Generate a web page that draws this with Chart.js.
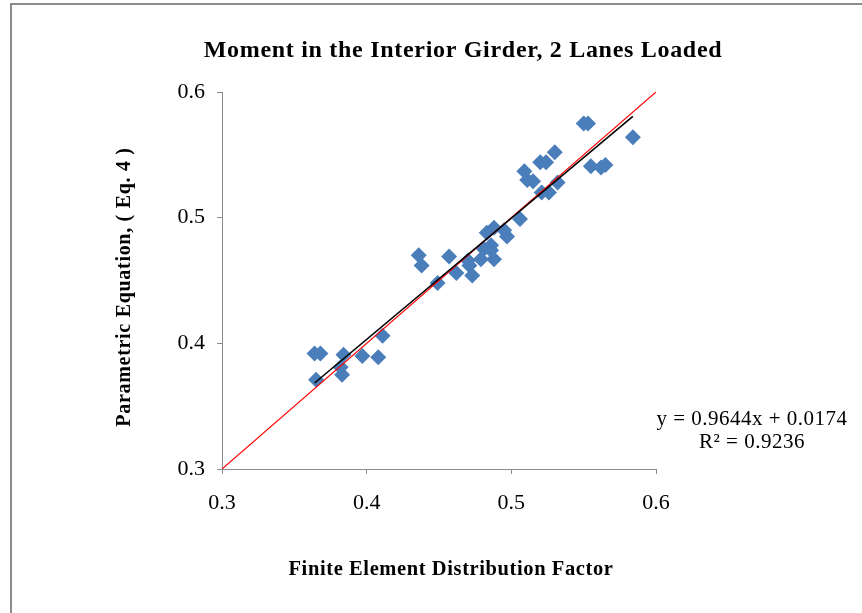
<!DOCTYPE html>
<html>
<head>
<meta charset="utf-8">
<script src="https://cdn.jsdelivr.net/npm/chart.js@4.4.1/dist/chart.umd.min.js"></script>
<style>
    body { margin: 0; background: #fff; }
    #wrap { position: relative; width: 862px; height: 613px; }
    #frame { position: absolute; left: 10px; top: 3px; width: 900px; height: 700px; border-left: 2px solid #8c8c8c; border-top: 2px solid #8c8c8c; }
    canvas { position: absolute; left: 0; top: 0; }
</style>
</head>
<body>
<div id="wrap">
    <div id="frame"></div>
    <canvas id="scatter-chart" width="862" height="613"></canvas>
</div>
<script>
let feFactor = [0.364, 0.368, 0.365, 0.384, 0.382, 0.383, 0.397, 0.408, 0.411, 0.436, 0.438, 0.449, 0.457, 0.462, 0.470, 0.471, 0.473, 0.479, 0.481, 0.483, 0.486, 0.486, 0.488, 0.488, 0.495, 0.497, 0.506, 0.509, 0.511, 0.515, 0.520, 0.521, 0.524, 0.526, 0.530, 0.532, 0.550, 0.553, 0.555, 0.562, 0.565, 0.584];
let paramEq = [0.392, 0.392, 0.371, 0.391, 0.381, 0.375, 0.390, 0.389, 0.406, 0.470, 0.462, 0.448, 0.469, 0.456, 0.466, 0.462, 0.454, 0.467, 0.475, 0.488, 0.478, 0.474, 0.467, 0.492, 0.490, 0.485, 0.499, 0.537, 0.530, 0.529, 0.544, 0.520, 0.544, 0.520, 0.552, 0.528, 0.575, 0.575, 0.541, 0.540, 0.542, 0.564];
let xTicks = [0.3, 0.4, 0.5, 0.6];
let yTicks = [0.3, 0.4, 0.5, 0.6];
let trendSlope = 0.9644;
let trendIntercept = 0.0174;
let trendR2 = 0.9236;

let scatterEl = document.getElementById('scatter-chart');

let points = feFactor.map((x, i) => ({ x: x, y: paramEq[i] }));
let xMin = Math.min(...feFactor);
let xMax = Math.max(...feFactor);
let trendLine = [
    { x: xMin, y: trendSlope * xMin + trendIntercept },
    { x: xMax, y: trendSlope * xMax + trendIntercept }
];
let equalLine = [
    { x: xTicks[0], y: yTicks[0] },
    { x: xTicks[xTicks.length - 1], y: yTicks[yTicks.length - 1] }
];

let serif = "'Liberation Serif', 'Times New Roman', serif";

// titles and the trendline label, drawn at fixed spots like the excel sheet
let textPlugin = {
    id: 'textPlugin',
    afterDraw(chart) {
        let ctx = chart.ctx;
        ctx.save();
        ctx.fillStyle = '#000';
        ctx.textAlign = 'center';
        ctx.textBaseline = 'middle';

        ctx.letterSpacing = '0.7px';
        ctx.font = 'bold 24px ' + serif;
        ctx.fillText('Moment in the Interior Girder, 2 Lanes Loaded', 463, 51);

        ctx.letterSpacing = '0.6px';
        ctx.font = 'bold 20.5px ' + serif;
        ctx.fillText('Finite Element Distribution Factor', 451, 570);

        ctx.save();
        ctx.translate(125, 287);
        ctx.rotate(-Math.PI / 2);
        ctx.letterSpacing = '0.7px';
        ctx.font = 'bold 20px ' + serif;
        ctx.fillText('Parametric Equation, ( Eq. 4 )', 0, 0);
        ctx.restore();

        ctx.letterSpacing = '0.5px';
        ctx.font = '21px ' + serif;
        ctx.fillText('y = ' + trendSlope + 'x + ' + trendIntercept, 752, 419);
        ctx.fillText('R² = ' + trendR2, 752, 442);
        ctx.restore();
    }
};

let config = {
    type: 'scatter',
    data: {
        datasets: [
            {
                data: trendLine,
                showLine: true,
                borderColor: '#000',
                borderWidth: 1.6,
                pointRadius: 0,
                order: 0
            },
            {
                data: equalLine,
                showLine: true,
                borderColor: '#ff0000',
                borderWidth: 1.2,
                pointRadius: 0,
                order: 1
            },
            {
                data: points,
                pointStyle: 'rectRot',
                pointRadius: 8,
                pointBackgroundColor: '#4a7ebb',
                pointBorderColor: '#4a7ebb',
                pointBorderWidth: 0,
                order: 2
            }
        ]
    },
    options: {
        responsive: false,
        animation: false,
        layout: {
            padding: { top: 92, right: 206, bottom: 0, left: 0 }
        },
        plugins: {
            legend: { display: false },
            tooltip: { enabled: false }
        },
        scales: {
            x: {
                type: 'linear',
                min: 0.3,
                max: 0.6,
                afterBuildTicks: (scale) => { scale.ticks = xTicks.map(v => ({ value: v })); },
                afterFit: (scale) => { scale.height = 144; },
                ticks: {
                    color: '#000',
                    padding: 16,
                    font: { family: serif, size: 22 },
                    callback: (v) => v.toFixed(1)
                },
                grid: { drawOnChartArea: false, drawTicks: true, tickLength: 5, color: '#8c8c8c' },
                border: { display: true, color: '#8c8c8c', width: 1 }
            },
            y: {
                type: 'linear',
                min: 0.3,
                max: 0.6,
                afterBuildTicks: (scale) => { scale.ticks = yTicks.map(v => ({ value: v })); },
                afterFit: (scale) => { scale.width = 222; },
                ticks: {
                    color: '#000',
                    padding: 12,
                    font: { family: serif, size: 22 },
                    callback: (v) => v.toFixed(1)
                },
                grid: { drawOnChartArea: false, drawTicks: true, tickLength: 5, color: '#8c8c8c' },
                border: { display: true, color: '#8c8c8c', width: 1 }
            }
        }
    },
    plugins: [textPlugin]
};

let scatterChart = new Chart(scatterEl, config);
</script>
</body>
</html>
